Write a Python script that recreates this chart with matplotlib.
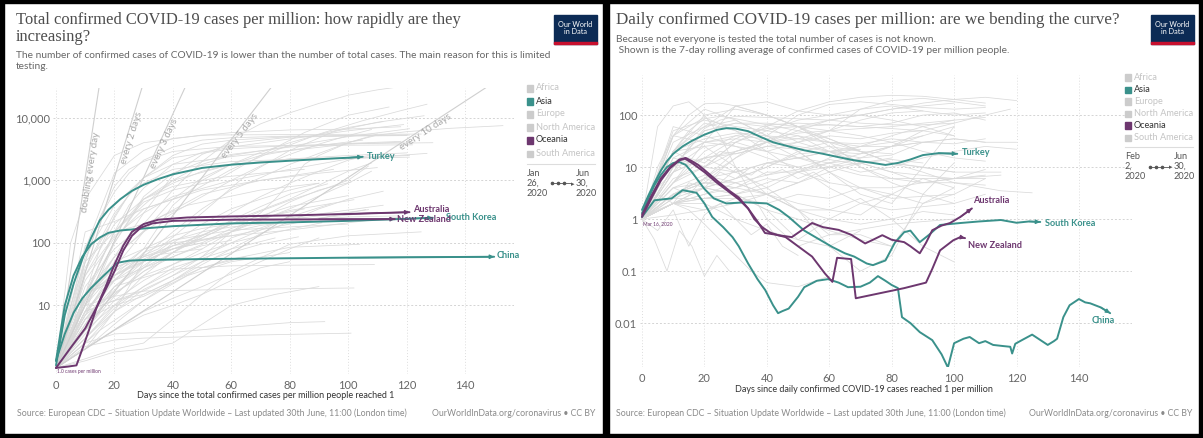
import numpy as np
import matplotlib
matplotlib.use('Agg')
import matplotlib.pyplot as plt
from matplotlib.patches import Rectangle

# figure is laid out in pixels, these convert to figure fractions
W, H = 1203, 438


def fx(x):
    return x / W


def fy(y):
    return 1 - y / H


TEAL = '#3a918b'
PURPLE = '#6d376f'
GREY = '#dadada'
TXT = '#4d4d4d'

# ---------------- left chart: total confirmed cases per million ----------------
turkey_total_days = [0, 3, 6, 9, 12, 15, 18, 22, 26, 30, 35, 40, 50, 60, 70, 80, 90, 100, 105]
turkey_total = [1.1, 7, 22, 55, 120, 230, 340, 500, 680, 850, 1050, 1250, 1580, 1780, 1930, 2060,
                2180, 2300, 2380]
korea_total_days = [0, 3, 6, 9, 12, 15, 18, 22, 30, 40, 60, 80, 100, 115, 129]
korea_total = [1.3, 10, 30, 60, 95, 122, 145, 158, 170, 185, 205, 213, 225, 238, 252]
china_total_days = [0, 3, 6, 9, 12, 16, 21, 25, 29, 49, 100, 150]
china_total = [1.3, 3.5, 7.6, 13, 19, 29, 48, 52, 53, 55, 58, 60]
australia_total_days = [0, 5, 10, 14, 17, 20, 23, 26, 30, 35, 45, 60, 80, 100, 121]
australia_total = [1, 2.1, 4.3, 9.5, 20, 45, 90, 150, 200, 235, 255, 265, 275, 290, 310]
nz_total_days = [0, 4, 7, 9, 12, 14, 17, 20, 23, 26, 29, 33, 40, 60, 90, 116]
nz_total = [1, 1.05, 1.1, 2, 5, 9.5, 18, 35, 75, 130, 175, 205, 225, 235, 238, 240]

# other countries, drawn in grey: (days, cases per million)
grey_total = [
    ([0, 10, 20, 30, 40, 50, 60, 70, 80, 90, 100, 110, 121],
     [1, 90, 150, 200, 700, 2000, 4500, 8000, 12000, 17000, 23000, 28000, 33000]),
    ([0, 10, 20, 30, 45, 60, 75, 90, 105, 118, 127],
     [1, 150, 220, 350, 600, 1500, 3000, 5500, 9000, 13000, 16500]),
    ([0, 10, 20, 30, 40, 55, 70, 85, 100, 114],
     [1, 15, 150, 450, 700, 1000, 2500, 5800, 11000, 14900]),
    ([0, 10, 20, 35, 50, 65, 80, 95, 110, 126],
     [1, 15, 40, 80, 300, 1200, 3000, 6000, 8500, 10800]),
    ([0, 10, 20, 30, 40, 50, 60, 70, 80, 90, 100, 112],
     [1, 8, 30, 80, 400, 1000, 1800, 2800, 4000, 5400, 7000, 8700]),
    ([0, 5, 10, 15, 20, 25, 30, 40, 50, 60, 80, 100, 119],
     [1, 3, 12, 50, 150, 400, 750, 1800, 2800, 3400, 4600, 6200, 7800]),
    ([0, 5, 10, 15, 20, 25, 30, 40, 50, 60, 80, 100, 121],
     [1, 5, 50, 250, 650, 1300, 2100, 3400, 4400, 4800, 5100, 5200, 5300]),
    ([0, 10, 20, 30, 40, 50, 60, 80, 100, 121],
     [1, 50, 150, 400, 1000, 1800, 2500, 3500, 5000, 6700]),
    ([0, 10, 20, 30, 40, 50, 60, 70, 80, 90, 100, 108],
     [1, 15, 60, 150, 300, 550, 1000, 1700, 2600, 3800, 5200, 6500]),
    ([0, 5, 10, 15, 20, 25, 30, 40, 60, 80, 100, 129],
     [1, 3, 35, 100, 250, 600, 1100, 2300, 3200, 3600, 3850, 4000]),
    ([0, 10, 20, 30, 40, 50, 60, 80, 100, 118],
     [1, 8, 100, 550, 1300, 2000, 2600, 3400, 3900, 4200]),
    ([0, 10, 20, 30, 40, 50, 60, 80, 100, 120],
     [1, 40, 300, 1100, 2500, 3800, 4400, 5000, 5200, 5300]),
    ([0, 10, 20, 30, 40, 50, 60, 70, 75, 80, 85, 90, 100, 110, 120, 135, 153],
     [1, 8, 12, 17, 30, 60, 150, 300, 500, 900, 1800, 2500, 4000, 5300, 6000, 6800, 7500]),
    ([0, 5, 10, 15, 20, 25, 30, 40, 60, 80, 100, 121],
     [1, 2, 15, 80, 270, 600, 900, 1500, 2000, 2170, 2250, 2350]),
    ([0, 10, 20, 30, 40, 60, 80, 100, 121],
     [1, 15, 100, 500, 1000, 1800, 2200, 2300, 2500]),
    ([0, 10, 20, 30, 40, 60, 80, 100, 127],
     [1, 30, 130, 300, 550, 1000, 1500, 2200, 2700]),
    ([0, 10, 20, 30, 40, 50, 60, 70, 80, 90, 105],
     [1, 7, 40, 150, 500, 1100, 1800, 2500, 3000, 3600, 4400]),
    ([0, 5, 10, 15, 20, 25, 30, 40, 60, 80, 100, 122],
     [1, 10, 50, 250, 800, 1500, 2000, 2900, 3500, 3600, 3650, 3700]),
    ([0, 10, 20, 30, 40, 50, 60, 70, 80, 90, 100, 110],
     [1, 8, 30, 60, 150, 350, 700, 1100, 1800, 2700, 4000, 5500]),
    ([0, 10, 20, 30, 40, 60, 80, 100, 119],
     [1, 60, 400, 1100, 1800, 2400, 3000, 3800, 4100]),
    ([0, 10, 20, 30, 40, 50, 60, 80, 100, 120],
     [1, 10, 60, 300, 1200, 2600, 3900, 4900, 5100, 5200]),
    ([0, 10, 20, 30, 40, 50, 60, 70, 80, 90, 100, 107],
     [1, 15, 25, 40, 70, 150, 300, 550, 900, 1400, 2100, 2500]),
    ([0, 10, 20, 30, 40, 50, 60, 70, 80, 90, 100, 112],
     [1, 2.5, 8, 15, 25, 45, 80, 140, 220, 350, 500, 670]),
    ([0, 10, 20, 30, 40, 50, 60, 70, 80, 90, 101],
     [1, 3.5, 12, 25, 45, 80, 150, 250, 450, 700, 940]),
    ([0, 10, 20, 30, 40, 50, 60, 70, 80, 94],
     [1, 4, 10, 20, 35, 60, 100, 160, 260, 420]),
    ([0, 10, 20, 30, 40, 50, 60, 70, 80, 93],
     [1, 3, 10, 30, 70, 130, 230, 380, 600, 880]),
    ([0, 10, 20, 30, 40, 50, 60, 70, 80, 100],
     [1, 4, 20, 50, 80, 120, 200, 270, 380, 570]),
    ([0, 10, 20, 30, 40, 50, 60, 70, 80, 90, 107],
     [1, 10, 35, 80, 130, 170, 200, 220, 240, 270, 340]),
    ([0, 10, 20, 30, 40, 50, 60, 70, 80, 90, 110],
     [1, 13, 40, 60, 80, 110, 150, 190, 220, 250, 310]),
    ([0, 10, 20, 30, 40, 50, 60, 70, 80, 91],
     [1, 7, 16, 30, 45, 70, 100, 130, 165, 210]),
    ([0, 10, 20, 30, 40, 50, 60, 80, 106],
     [1, 12, 35, 60, 90, 110, 130, 200, 340]),
    ([0, 10, 20, 30, 40, 50, 60, 80, 100, 117],
     [1, 2, 8, 50, 110, 150, 180, 220, 260, 270]),
    ([0, 10, 20, 30, 40, 50, 60, 80, 100, 125],
     [1, 2, 4, 7, 10, 15, 35, 95, 130, 150]),
    ([0, 10, 20, 30, 40, 60, 80, 109],
     [1, 6, 20, 28, 38, 43, 44, 45]),
    ([0, 10, 20, 30, 60, 102],
     [1, 10, 14, 17, 18, 19]),
    ([0, 10, 20, 30, 60, 101],
     [1, 2.2, 2.8, 3, 3.3, 3.6]),
    ([0, 10, 20, 30, 40, 50, 60, 70, 80, 90],
     [1, 2, 4, 8, 13, 20, 32, 50, 80, 120]),
    ([0, 10, 20, 30, 40, 50, 60, 70, 83],
     [1, 3, 8, 18, 30, 50, 70, 95, 125]),
    ([0, 10, 20, 30, 40, 50, 60, 70, 80],
     [1, 1.4, 2, 2.5, 6, 15, 25, 40, 50]),
    ([0, 10, 20, 30, 40, 50, 60, 75, 90],
     [1, 1.3, 1.8, 2, 2.5, 5, 10, 15, 20]),
    ([0, 10, 20, 30, 40, 60, 80, 92],
     [1, 2.5, 3.5, 3.7, 3.7, 4.5, 5.3, 5.5]),
    ([0, 10, 20, 30, 40, 50, 60, 80, 104],
     [1, 6, 10, 14, 23, 40, 55, 85, 95]),
    ([0, 10, 20, 30, 40, 50, 60, 70, 80, 102],
     [1, 5, 30, 50, 80, 100, 170, 240, 330, 490]),
    ([0, 10, 20, 30, 40, 50, 60, 80, 112],
     [1, 8, 12, 15, 25, 50, 120, 250, 400]),
    ([0, 10, 20, 30, 40, 50, 60, 70, 80, 90, 100, 107],
     [1, 5, 15, 35, 70, 120, 200, 320, 480, 680, 1000, 1700]),
    ([0, 10, 20, 30, 40, 50, 60, 80, 100, 120],
     [1, 15, 150, 500, 900, 1400, 1800, 2200, 2500, 2750]),
    ([0, 10, 20, 30, 40, 60, 80, 100, 108],
     [1, 6, 20, 40, 60, 150, 350, 900, 1400]),
    ([0, 10, 20, 30, 40, 50, 60, 80, 100, 108],
     [1, 15, 30, 55, 90, 130, 220, 500, 1400, 1900]),
    ([0, 5, 10, 20, 30, 50, 80, 100, 125],
     [1, 100, 500, 2500, 4000, 5300, 5400, 5450, 5500]),
    ([0, 10, 20, 30, 40, 60, 80, 100, 118],
     [1, 80, 1300, 3000, 4700, 5800, 6400, 6600, 7200]),
    ([0, 10, 20, 30, 40, 60, 80, 100],
     [1, 6, 25, 70, 110, 160, 180, 200]),
    ([0, 10, 20, 30, 40, 60, 80, 100, 118],
     [1, 10, 50, 80, 100, 130, 160, 210, 260]),
    ([0, 10, 20, 30, 40, 50, 60], [1, 5, 15, 35, 60, 90, 110]),
    ([0, 10, 20, 30, 40, 50], [1, 8, 25, 50, 80, 100]),
    ([0, 10, 20, 30, 40, 60, 75], [1, 3, 9, 20, 40, 80, 120]),
    ([0, 10, 20, 30, 45, 70, 90], [1, 20, 80, 200, 400, 700, 900]),
    ([0, 10, 20, 30, 40, 55, 70, 85], [1, 30, 200, 500, 800, 1100, 1300, 1500]),
    ([0, 10, 20, 30, 40, 50, 65], [1, 2, 5, 12, 25, 40, 60]),
    ([0, 15, 30, 45, 60, 80], [1, 4, 12, 30, 50, 70]),
    ([0, 10, 20, 30, 50, 70, 90, 110], [1, 25, 120, 350, 700, 1000, 1300, 1600]),
    ([0, 10, 20, 35, 50, 70, 95], [1, 12, 60, 250, 600, 1000, 1500]),
    ([0, 10, 25, 40, 60, 85], [1, 6, 30, 90, 200, 350]),
    ([0, 8, 16, 25, 35, 50], [1, 5, 18, 40, 65, 80]),
    ([0, 10, 20, 30, 40, 50, 60, 70, 80, 90], [1, 4, 14, 40, 100, 200, 350, 500, 700, 900]),
]

# doubling-time guide lines: all start at (0, 1) and run to the top of the chart
doubling_labels = ['doubling every day', 'every 2 days', 'every 3 days', 'every 5 days',
                   'every 10 days']
doubling_end_days = [14.7, 29.4, 44.1, 73.5, 147]
doubling_label_days = [10.3, 24.3, 35.6, 61.6, 125.7]

# ---------------- right chart: daily confirmed cases per million ----------------
turkey_daily_days = [0, 2, 4, 6, 8, 10, 13, 16, 20, 24, 27, 30, 34, 38, 42, 47, 52, 58, 63, 68,
                     74, 78, 82, 86, 90, 95, 101]
turkey_daily = [1.5, 2.8, 5, 8.5, 13, 18, 25, 32, 42, 52, 56, 55, 49, 38, 30, 25, 21, 18, 15.5,
                13.5, 12, 11, 12, 14, 17, 18.5, 18]
korea_daily_days = [0, 2, 4, 6, 8, 10, 12, 14, 16, 18, 20, 23, 27, 33, 40, 44, 47, 52, 57, 61, 65,
                    68, 72, 74, 78, 81, 84, 86, 89, 92, 95.5, 102, 108, 115, 120, 124, 127.6]
korea_daily = [1.3, 2.5, 4.5, 7, 10, 12, 12.5, 11, 8, 5.5, 3.8, 2.5, 2, 2.1, 2.0, 1.5, 1.1, 0.6, 0.4,
               0.29, 0.22, 0.19, 0.14, 0.13, 0.16, 0.35, 0.56, 0.6, 0.36, 0.5, 0.77, 0.84, 0.9,
               0.96, 0.85, 0.9, 0.88]
china_daily_days = [0, 4, 9.5, 13, 17.5, 20, 22.5, 26, 29, 31, 34, 37, 39.5, 42, 43.6, 45, 47, 50,
                    52, 56, 59.6, 63, 66, 70, 73, 75.6, 78, 80, 82, 83.3, 86, 89, 93, 96, 98, 100,
                    103, 105, 108, 110, 112.5, 116, 118, 118.6, 119.6, 122, 125, 127, 130, 132,
                    133, 135, 137, 140, 142, 143.6, 147, 150]
china_daily = [1.1, 2.3, 2.5, 3.6, 3.2, 2.0, 1.1, 0.7, 0.45, 0.3, 0.14, 0.07, 0.043, 0.022, 0.0155,
               0.017, 0.019, 0.032, 0.049, 0.065, 0.07, 0.06, 0.049, 0.05, 0.06, 0.08, 0.065,
               0.054, 0.047, 0.013, 0.01, 0.0067, 0.0047, 0.0025, 0.0014, 0.0041, 0.005, 0.0054,
               0.0041, 0.0045, 0.0038, 0.0036, 0.0035, 0.0026, 0.004, 0.0048, 0.006, 0.005,
               0.0038, 0.0045, 0.005, 0.013, 0.022, 0.029, 0.025, 0.024, 0.02, 0.0155]
australia_daily_days = [0, 3, 6, 9, 12, 14, 16, 18, 20, 24, 28, 31, 34, 36, 38.5, 41, 43.6, 48, 51,
                        54.5, 58, 63, 67, 71.5, 74, 77, 80, 84, 86, 89, 91, 93, 96, 98.7, 102,
                        105.7]
australia_daily = [1.2, 2.8, 6, 10, 14, 15, 13, 11, 8.8, 5.5, 3.5, 2.6, 1.6, 1.0, 0.7, 0.55, 0.49,
                   0.45, 0.6, 0.84, 0.7, 0.62, 0.5, 0.34, 0.4, 0.49, 0.4, 0.36, 0.3, 0.22, 0.35,
                   0.61, 0.75, 0.84, 1.1, 1.6]
nz_daily_days = [0, 3, 6, 9, 12, 13.8, 16, 20, 24, 28, 31, 34, 37, 39.4, 43, 46, 50, 54.5, 58.6,
                 61, 62.5, 67, 68.5, 84, 91, 93, 95.5, 99.7, 102, 103.5]
nz_daily = [1.1, 2.5, 5.5, 9.5, 13.5, 14.5, 12, 8, 5, 3.3, 2.4, 1.6, 0.9, 0.54, 0.5, 0.45, 0.3,
            0.19, 0.09, 0.062, 0.18, 0.17, 0.03, 0.047, 0.06, 0.11, 0.25, 0.39, 0.45, 0.43]

grey_daily = [
    ([0, 10, 20, 30, 40, 50, 60, 70, 80, 90, 100, 110],
     [1, 20, 10, 30, 60, 120, 180, 220, 240, 230, 200, 170]),
    ([0, 10, 20, 30, 40, 50, 60, 70, 80, 90, 100, 110, 120],
     [1, 15, 10, 20, 30, 60, 80, 100, 130, 170, 200, 220, 190]),
    ([0, 10, 20, 30, 40, 50, 60, 70, 80, 90, 100, 110],
     [1, 8, 15, 18, 25, 30, 50, 130, 190, 210, 180, 150]),
    ([0, 10, 20, 30, 40, 50, 60, 70, 80, 90, 100, 110],
     [1, 3, 5, 15, 40, 100, 160, 180, 160, 140, 130, 140]),
    ([0, 10, 20, 30, 40, 50, 60, 70, 80, 90, 100, 110],
     [1, 5, 10, 30, 50, 80, 100, 130, 150, 120, 100, 110]),
    ([0, 10, 15, 20, 25, 30, 40, 50, 60, 70, 80, 90, 100, 110, 118],
     [1, 8, 25, 55, 80, 95, 90, 85, 80, 70, 65, 65, 70, 100, 130]),
    ([0, 5, 10, 15, 20, 25, 30, 40, 50, 60, 70, 80, 90, 100, 115],
     [1, 10, 40, 100, 165, 170, 150, 100, 60, 25, 12, 8, 5, 6, 7]),
    ([0, 5, 10, 15, 20, 25, 30, 40, 50, 60, 70, 80, 90, 100, 115, 125],
     [1, 5, 20, 50, 85, 95, 85, 65, 50, 35, 20, 12, 8, 5, 3.5, 3.2]),
    ([0, 10, 20, 30, 40, 50, 60, 70, 80, 100, 115],
     [1, 20, 100, 130, 100, 60, 35, 20, 12, 8, 8]),
    ([0, 10, 20, 30, 40, 50, 60, 70, 80, 90, 100, 110],
     [1, 5, 20, 40, 55, 60, 65, 60, 70, 100, 110, 80]),
    ([0, 10, 20, 30, 40, 50, 60, 70, 80, 90, 100],
     [1, 3, 6, 15, 30, 50, 80, 100, 130, 150, 170]),
    ([0, 10, 20, 30, 40, 50, 60, 70, 80, 90, 100, 110],
     [1, 10, 50, 70, 70, 60, 50, 40, 30, 20, 15, 13]),
    ([0, 10, 20, 30, 40, 50, 60, 70, 80, 90, 100, 110],
     [1, 20, 70, 50, 30, 15, 10, 7, 6, 5, 5, 4.5]),
    ([0, 10, 20, 30, 40, 50, 60, 70, 80, 100, 110],
     [1, 10, 50, 70, 60, 30, 20, 12, 8, 6, 7]),
    ([0, 10, 20, 30, 40, 50, 60, 70, 80, 100, 110],
     [1, 40, 130, 80, 40, 20, 8, 4, 2.5, 3, 6]),
    ([0, 10, 20, 30, 40, 50, 60, 70, 80, 90, 100, 110, 120],
     [1, 8, 15, 20, 30, 40, 20, 15, 17, 30, 35, 30, 30]),
    ([0, 10, 20, 30, 40, 50, 60, 70, 80, 90],
     [1, 5, 15, 35, 65, 70, 65, 60, 55, 50]),
    ([0, 10, 20, 30, 40, 50, 60, 70, 80, 90],
     [1, 3, 6, 20, 30, 35, 50, 80, 110, 120]),
    ([0, 10, 20, 30, 40, 50, 60, 70, 80, 90, 100],
     [1, 5, 30, 150, 180, 120, 100, 100, 80, 60, 40]),
    ([0, 10, 20, 30, 40, 50, 60, 70, 80, 90, 100],
     [1, 2, 2.5, 3, 4, 8, 15, 25, 40, 60, 80]),
    ([0, 10, 20, 30, 40, 50, 60, 70, 80, 90],
     [1, 3, 6, 8, 12, 15, 20, 25, 30, 40]),
    ([0, 10, 20, 30, 40, 50, 60, 70, 80, 90, 100],
     [1, 20, 35, 45, 40, 35, 30, 20, 12, 10, 8]),
    ([0, 10, 20, 30, 40, 50, 60, 70],
     [1, 2, 3, 5, 7, 9, 12, 14]),
    ([0, 10, 20, 30, 40, 50, 60, 70, 80],
     [1, 2, 4, 6, 10, 20, 25, 20, 18]),
    ([0, 10, 20, 30, 40, 50, 60, 70],
     [1, 2, 4, 6, 10, 18, 20, 22]),
    ([0, 10, 20, 30, 40, 50, 60, 70, 80, 90],
     [1, 1.2, 1.5, 2, 3, 5, 8, 12, 14, 12]),
    ([0, 10, 20, 30, 40, 50, 60, 70, 80, 90, 100],
     [1, 3, 5, 5, 3, 2, 1.5, 1.2, 3, 6, 4]),
    ([0, 10, 20, 30, 40, 50, 60, 70, 80, 90, 100, 110],
     [1, 50, 80, 60, 50, 40, 30, 25, 25, 30, 35, 30]),
    ([0, 10, 20, 30, 40, 50, 60, 70, 80, 90, 100],
     [1, 20, 60, 150, 100, 60, 30, 10, 5, 3, 2]),
    ([0, 10, 20, 30, 40, 50, 60, 70, 80, 90, 100, 110],
     [1, 40, 90, 50, 20, 8, 5, 4, 4, 5, 6, 9]),
    ([0, 10, 20, 30, 40, 50, 60, 70, 80, 90, 100],
     [1, 4, 7, 5, 3, 1.5, 1.0, 0.8, 1.0, 1.4, 1.2]),
    ([0, 5, 10, 15, 20, 25, 30, 40, 50, 60, 80, 100],
     [1, 60, 150, 180, 100, 40, 10, 1, 0.3, 0.5, 0.8, 1.0]),
    ([0, 10, 20, 30, 40, 50, 60, 70, 80, 100, 110],
     [1, 60, 40, 25, 15, 10, 4, 2, 1.5, 2, 3]),
    ([0, 10, 20, 30, 40, 50, 60, 70, 80, 100, 110],
     [1, 40, 30, 35, 30, 25, 20, 10, 6, 6, 6]),
    ([0, 10, 20, 30, 40, 50, 60, 70],
     [1, 2.5, 4, 3, 1.5, 0.4, 0.3, 0.6]),
    ([0, 5, 10, 15, 20, 25, 30, 35, 40, 50, 60],
     [1, 1.5, 2, 1.5, 0.8, 0.4, 0.2, 0.1, 0.06, 0.05, 0.08]),
    ([0, 10, 20, 30, 40, 50, 60, 70, 80, 90, 100],
     [1, 4, 5, 4, 3, 1.5, 1.5, 2.5, 1.0, 0.3, 0.15]),
    ([0, 10, 20, 30, 40, 50, 60, 70, 80, 90, 100],
     [1, 2, 2, 1, 0.6, 0.4, 1.0, 2, 3, 2, 3]),
    ([0, 10, 20, 30, 40, 50, 60, 70, 80],
     [1, 3, 4, 3, 1.5, 1.0, 0.6, 0.4, 0.3]),
    ([0, 10, 20, 30, 40, 50, 60, 70, 80, 90, 100],
     [1, 10, 15, 8, 4, 1.5, 0.3, 0.1, 0.2, 3, 12]),
    ([0, 10, 20, 30, 40, 50, 60, 70, 80, 90, 100],
     [1, 20, 25, 10, 3, 1.5, 0.5, 0.5, 0.3, 2, 4]),
    ([0, 10, 20, 30, 40, 50, 60, 70, 80],
     [1, 3, 5, 4, 8, 8, 10, 12, 15]),
    ([0, 10, 20, 30, 40, 50],
     [1, 2, 3, 4, 6, 5]),
    ([0, 10, 20, 30, 40, 50, 60, 70, 80, 90, 100],
     [1, 2.5, 2.5, 2.5, 3, 5, 10, 15, 25, 40, 60]),
    ([0, 10, 20, 30, 40, 50, 60, 70, 80, 90, 100],
     [1, 2, 2.5, 3, 5, 8, 12, 18, 25, 50, 70]),
    ([0, 10, 20, 30, 40, 50, 60, 70, 80, 90, 100],
     [1, 30, 60, 80, 40, 20, 8, 3, 2, 10, 60]),
    ([0, 5, 10, 15, 20, 25, 30, 35, 40, 45, 50, 55, 60],
     [1, 3, 2, 5, 4, 8, 6, 10, 7, 9, 6, 8, 5]),
    ([0, 5, 10, 15, 20, 25, 30, 35, 40, 50, 60, 70],
     [1, 2, 4, 3, 6, 5, 9, 7, 12, 10, 14, 11]),
    ([0, 5, 10, 15, 20, 25, 30, 40, 50, 60, 70, 80, 90],
     [1, 4, 8, 15, 12, 20, 18, 25, 22, 30, 28, 35, 30]),
    ([0, 5, 10, 15, 20, 25, 30, 35, 40, 45, 50],
     [1, 0.6, 1.5, 0.3, 1.2, 2, 1, 0.5, 0.8, 0.3, 0.2]),
    ([0, 4, 8, 12, 16, 20, 24, 28],
     [1, 0.4, 0.1, 0.6, 0.3, 0.08, 0.2, 0.1]),
    ([0, 10, 20, 30, 40, 50, 60, 70, 80, 90, 100, 110],
     [1, 6, 10, 8, 12, 15, 20, 18, 25, 30, 28, 35]),
    ([0, 10, 20, 30, 40, 50, 60, 70, 80, 90, 100],
     [1, 15, 30, 25, 20, 30, 40, 35, 45, 50, 40]),
    ([0, 10, 20, 30, 40, 50, 60, 70, 80],
     [1, 2, 1.5, 2.5, 2, 3, 2.5, 4, 3]),
    ([0, 5, 10, 15, 20, 30, 40, 50, 60, 70, 80, 90, 100, 110],
     [1, 5, 12, 20, 30, 40, 35, 45, 50, 55, 60, 70, 80, 90]),
    ([0, 10, 20, 30, 40, 50, 60, 70, 80, 90, 100, 110, 120],
     [1, 10, 25, 30, 20, 15, 12, 8, 10, 15, 20, 25, 22]),
]

regions = ['Africa', 'Asia', 'Europe', 'North America', 'Oceania', 'South America']
region_colours = ['#cccccc', TEAL, '#cccccc', '#cccccc', PURPLE, '#cccccc']
region_text = ['#c4c4c4', '#333333', '#c4c4c4', '#c4c4c4', '#333333', '#c4c4c4']

x_ticks = [0, 20, 40, 60, 80, 100, 120, 140]
left_y_ticks = [10, 100, 1000, 10000]
left_y_labels = ['10', '100', '1,000', '10,000']
right_y_ticks = [0.01, 0.1, 1, 10, 100]
right_y_labels = ['0.01', '0.1', '1', '10', '100']

source = 'Source: European CDC – Situation Update Worldwide – Last updated 30th June, 11:00 (London time)'
licence = 'OurWorldInData.org/coronavirus • CC BY'

plt.rcParams['font.family'] = ['Lato', 'DejaVu Sans']

fig = plt.figure(figsize=(W / 100, H / 100), dpi=100)
fig.patch.set_facecolor('white')


def style_axes(ax, yticks, ylabels):
    ax.set_yscale('log')
    ax.set_xticks(x_ticks)
    ax.set_yticks(yticks)
    ax.set_yticklabels(ylabels)
    ax.minorticks_off()
    for s in ax.spines.values():
        s.set_visible(False)
    ax.tick_params(length=0, labelsize=8, labelcolor='#666666')
    ax.tick_params(axis='x', pad=4)
    ax.tick_params(axis='y', pad=2)
    for t in yticks:
        ax.axhline(t, color='#d4d4d4', lw=0.7, dashes=(2, 2), zorder=0)
    for t in x_ticks:
        ax.axvline(t, color='#dddddd', lw=0.7, ls=(0, (1, 2)), zorder=0)


def end_arrow(ax, xs, ys, colour):
    ax.annotate('', xy=(xs[-1], ys[-1]), xytext=(xs[-2], ys[-2]),
                arrowprops=dict(arrowstyle='-|>', color=colour, lw=1.0,
                                mutation_scale=6, shrinkA=0, shrinkB=0))


def draw_logo(x0, y0):
    fig.patches.append(Rectangle((fx(x0), fy(y0 + 29)), 43 / W, 29 / H,
                                 transform=fig.transFigure, color='#0c2b55', zorder=5))
    fig.patches.append(Rectangle((fx(x0), fy(y0 + 29)), 43 / W, 2.5 / H,
                                 transform=fig.transFigure, color='#c8102e', zorder=6))
    fig.text(fx(x0 + 21.5), fy(y0 + 13), 'Our World\nin Data', color='white', fontsize=5.2,
             ha='center', va='center', linespacing=1.0, zorder=7)


def draw_legend(x0, y0, step, start_text, end_text):
    for i, name in enumerate(regions):
        y = y0 + i * step
        fig.patches.append(Rectangle((fx(x0), fy(y + 3.5)), 6 / W, 6 / H,
                                     transform=fig.transFigure, color=region_colours[i]))
        fig.text(fx(x0 + 9), fy(y), name, fontsize=6.6, color=region_text[i], va='center')
    ysep = y0 + 5.5 * step + 4
    fig.lines.append(plt.Line2D([fx(x0), fx(x0 + 68)], [fy(ysep), fy(ysep)],
                                transform=fig.transFigure, color='#dddddd', lw=0.8))
    fig.text(fx(x0), fy(ysep + 5), start_text, fontsize=6.6, color='#555555', va='top',
             linespacing=1.15)
    fig.text(fx(x0 + 49), fy(ysep + 5), end_text, fontsize=6.6, color='#555555', va='top',
             linespacing=1.15)
    ya = ysep + 20
    fig.lines.append(plt.Line2D([fx(x0 + 25), fx(x0 + 44)], [fy(ya), fy(ya)],
                                transform=fig.transFigure, color='#555555', lw=0.6,
                                marker='o', markersize=1.6, markevery=[0]))
    for xd in [x0 + 31, x0 + 37]:
        fig.lines.append(plt.Line2D([fx(xd)], [fy(ya)], transform=fig.transFigure,
                                    color='#555555', marker='o', markersize=1.6))
    fig.text(fx(x0 + 47), fy(ya), '▸', fontsize=5, color='#555555', va='center', ha='right')


# ---------------- left panel ----------------
ax1 = fig.add_axes([fx(53), fy(374), (514 - 53) / W, (374 - 88) / H])
ax1.set_xlim(-1.03, 156.8)
ax1.set_ylim(0.8, 30000)
style_axes(ax1, left_y_ticks, left_y_labels)

for days, vals in grey_total:
    ax1.plot(days, vals, color=GREY, lw=0.55, zorder=1)

top1 = ax1.get_ylim()[1]
for name, end, lab_day in zip(doubling_labels, doubling_end_days, doubling_label_days):
    ax1.plot([0, end], [1, top1], color='#cfcfcf', lw=0.8, zorder=2)
    p0 = ax1.transData.transform((0, 1))
    p1 = ax1.transData.transform((end, top1))
    angle = np.degrees(np.arctan2(p1[1] - p0[1], p1[0] - p0[0]))
    lab_val = 10 ** np.interp(lab_day, [0, end], [0, np.log10(top1)])
    ax1.text(lab_day, lab_val, name, rotation=angle, rotation_mode='anchor', ha='center',
             va='top', fontsize=7, color='#a8a8a8', zorder=3)

for days, vals, colour in [(china_total_days, china_total, TEAL),
                           (korea_total_days, korea_total, TEAL),
                           (turkey_total_days, turkey_total, TEAL),
                           (nz_total_days, nz_total, PURPLE),
                           (australia_total_days, australia_total, PURPLE)]:
    ax1.plot(days, vals, color=colour, lw=1.4, zorder=4, solid_capstyle='round')
    end_arrow(ax1, days, vals, colour)

lab = dict(fontsize=6.6, fontweight='bold', va='center', zorder=6)
ax1.text(turkey_total_days[-1] + 1.5, turkey_total[-1], 'Turkey', color=TEAL, **lab)
ax1.text(china_total_days[-1] + 0.8, china_total[-1] * 1.05, 'China', color=TEAL, **lab)
ax1.text(korea_total_days[-1] + 4.5, korea_total[-1], 'South Korea', color=TEAL, **lab)
ax1.text(nz_total_days[-1] + 0.8, nz_total[-1], 'New Zealand', color=PURPLE, **lab)
ax1.text(australia_total_days[-1] + 1.2, australia_total[-1] * 1.12, 'Australia', color=PURPLE,
         **lab)
ax1.text(0.5, 0.95, '1.0 cases per million', fontsize=3.5, color=PURPLE, va='top', zorder=6)

ax1.set_xlabel('Days since the total confirmed cases per million people reached 1',
               fontsize=6.5, color='#333333', labelpad=3)
ax1.xaxis.set_label_coords((266 - 53) / (514 - 53), -0.058)

# ---------------- right panel ----------------
ax2 = fig.add_axes([fx(640), fy(367), (1132 - 640) / W, (367 - 75) / H])
ax2.set_xlim(-0.64, 157)
ax2.set_ylim(0.00143, 590)
style_axes(ax2, right_y_ticks, right_y_labels)

for days, vals in grey_daily:
    ax2.plot(days, vals, color=GREY, lw=0.55, zorder=1)

for days, vals, colour in [(china_daily_days, china_daily, TEAL),
                           (korea_daily_days, korea_daily, TEAL),
                           (turkey_daily_days, turkey_daily, TEAL),
                           (nz_daily_days, nz_daily, PURPLE),
                           (australia_daily_days, australia_daily, PURPLE)]:
    ax2.plot(days, vals, color=colour, lw=1.4, zorder=4, solid_capstyle='round')
    end_arrow(ax2, days, vals, colour)

ax2.text(turkey_daily_days[-1] + 1.5, turkey_daily[-1] * 1.05, 'Turkey', color=TEAL, **lab)
ax2.text(korea_daily_days[-1] + 1.5, korea_daily[-1] * 0.95, 'South Korea', color=TEAL, **lab)
ax2.text(australia_daily_days[-1] + 0.5, australia_daily[-1] * 1.45, 'Australia', color=PURPLE,
         **lab)
ax2.text(nz_daily_days[-1] + 0.8, nz_daily[-1] * 0.72, 'New Zealand', color=PURPLE, **lab)
ax2.text(china_daily_days[-1] - 6, china_daily[-1] * 0.72, 'China', color=TEAL, **lab)
ax2.text(0.4, 0.93, 'Mar 16, 2020', fontsize=3.5, color=PURPLE, va='top', zorder=6)

ax2.set_xlabel('Days since daily confirmed COVID-19 cases reached 1 per million',
               fontsize=6.5, color='#333333')
ax2.xaxis.set_label_coords((864 - 640) / (1132 - 640), -0.062)

# ---------------- headers, legends, footers ----------------
fig.text(fx(16), fy(12), 'Total confirmed COVID-19 cases per million: how rapidly are they\n'
         'increasing?', family='Liberation Serif', fontsize=11.85, color=TXT, va='top',
         linespacing=1.05)
fig.text(fx(16), fy(51), 'The number of confirmed cases of COVID-19 is lower than the number of '
         'total cases. The main reason for this is limited\ntesting.', fontsize=7.3,
         color='#666666', va='top', linespacing=1.25)
fig.text(fx(616), fy(12), 'Daily confirmed COVID-19 cases per million: are we bending the curve?',
         family='Liberation Serif', fontsize=12.3, color=TXT, va='top')
fig.text(fx(616), fy(35), 'Because not everyone is tested the total number of cases is not known.\n'
         ' Shown is the 7-day rolling average of confirmed cases of COVID-19 per million people.',
         fontsize=7.4, color='#666666', va='top', linespacing=1.25)

draw_logo(554, 15)
draw_logo(1151, 15)

draw_legend(527, 88, 13, 'Jan\n26,\n2020', 'Jun\n30,\n2020')
draw_legend(1125, 77, 12, 'Feb\n2,\n2020', 'Jun\n30,\n2020')

for x_left, x_right in [(17, 595), (616, 1192)]:
    fig.text(fx(x_left), fy(413), source, fontsize=6.3, color='#8a8a8a', va='center')
    fig.text(fx(x_right), fy(413), licence, fontsize=6.3, color='#8a8a8a', va='center',
             ha='right')

# black frame and divider of the screenshot
for x0, y0, w, h in [(0, 0, 4, H), (W - 4, 0, 4, H), (0, 0, W, 3), (0, H - 4, W, 4),
                     (603, 0, 6, H)]:
    fig.patches.append(Rectangle((fx(x0), fy(y0 + h)), w / W, h / H,
                                 transform=fig.transFigure, color='black', zorder=10))

fig.savefig('out.png', dpi=100, facecolor='white')
